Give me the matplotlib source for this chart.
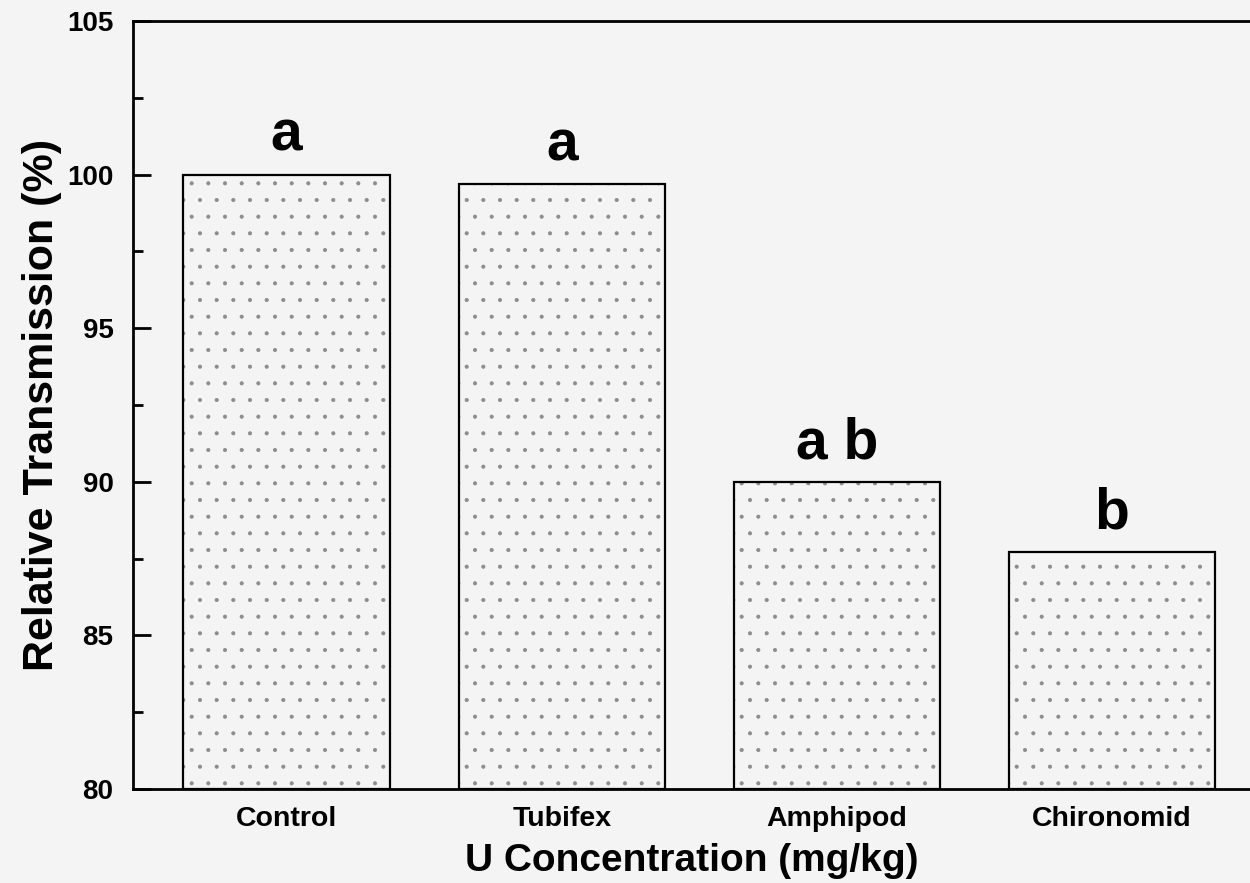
import numpy as np
import matplotlib
matplotlib.use('Agg')
import matplotlib.pyplot as plt

# data
groups = ['Control', 'Tubifex', 'Amphipod', 'Chironomid']
transmission = [100.0, 99.7, 90.0, 87.7]
letters = ['a', 'a', 'a b', 'b']

bg = '#f4f4f4'
plt.rcParams['font.family'] = ['Liberation Sans', 'DejaVu Sans']
plt.rcParams['hatch.linewidth'] = 0.5

fig = plt.figure(figsize=(12.5, 8.83), dpi=100, facecolor=bg)
ax = fig.add_axes([0.1064, 0.1065, 0.8936, 0.8697], facecolor=bg)

x = np.arange(len(groups))
heights = np.array(transmission) - 80
# stipple fill in grey, then black outline on top
ax.bar(x, heights, bottom=80, width=0.75, facecolor=bg,
       edgecolor='#8c8c8c', linewidth=0, hatch='.')
ax.bar(x, heights, bottom=80, width=0.75, facecolor='none',
       edgecolor='black', linewidth=1.6)

for xi, v, lab in zip(x, transmission, letters):
    ax.annotate(lab, (xi, v), xytext=(0, 17), textcoords='offset points',
                ha='center', va='baseline', fontsize=41, fontweight='bold')

ax.set_ylim(80, 105)
ax.set_xlim(-0.558, 3.501)
ax.set_yticks([80, 85, 90, 95, 100, 105])
ax.set_yticks(np.arange(82.5, 105, 5), minor=True)
ax.set_xticks(x)
ax.set_xticklabels(groups)

ax.tick_params(axis='y', which='major', direction='in', length=13, width=2,
               pad=14, labelsize=20)
ax.tick_params(axis='y', which='minor', direction='in', length=7, width=2)
ax.tick_params(axis='x', length=0, pad=12, labelsize=20.5)
for t in ax.get_xticklabels() + ax.get_yticklabels():
    t.set_fontweight('bold')

for s in ['left', 'top', 'bottom']:
    ax.spines[s].set_linewidth(2)
ax.spines['right'].set_visible(False)

ax.set_ylabel('Relative Transmission (%)', fontsize=31, fontweight='bold', labelpad=4)
ax.set_xlabel('U Concentration (mg/kg)', fontsize=28, fontweight='bold', labelpad=8)

fig.savefig('out.png', dpi=100, facecolor=bg)
